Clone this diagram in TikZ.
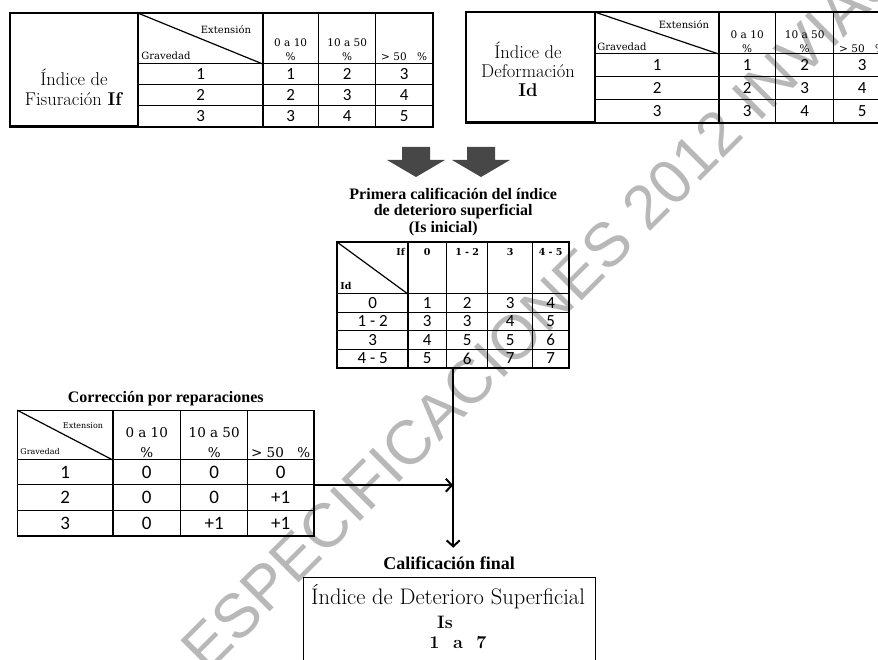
\documentclass[tikz,border=0pt]{standalone}
\usepackage{fontspec}
\usetikzlibrary{matrix,arrows.meta,positioning}

\newfontfamily\numfont{Carlito}
\newfontfamily\titfont{Liberation Serif}
\newfontfamily\wmfont{Liberation Sans}
\newfontfamily\hdrserif{DejaVu Serif}
\newcommand{\twol}[2]{\begin{tabular}[b]{@{}c@{}}#1\\#2\end{tabular}}
\newcommand{\hdrfont}{\hdrserif\fontsize{10.5}{14}\selectfont}
\newcommand{\smallhdr}{\hdrserif\fontsize{10}{12}\selectfont}

\tikzset{
  tcell/.style={draw, line width=1pt, inner sep=0pt, anchor=center},
  tbl/.style={matrix of nodes, nodes in empty cells, inner sep=0pt, anchor=north west,
    column sep=-1pt, row sep=-1pt, nodes={tcell}},
  labcell/.style={draw, line width=1pt, inner sep=0pt, outer sep=0pt, anchor=north west},
  labtxt/.style={align=center, inner sep=0pt, font=\fontsize{18.5}{20}\selectfont},
  hdrtxt/.style={anchor=base, inner sep=0pt, font=\hdrfont},
  tinytxt/.style={inner sep=0pt, font=\smallhdr},
  titletxt/.style={align=center, inner sep=0pt, font=\titfont\bfseries\fontsize{16}{16.5}\selectfont},
  thickline/.style={line width=1.8pt},
  conn/.style={line width=2pt, -{Straight Barb[length=6pt,width=13pt]}},
  blockarrow/.style={fill=black!72},
  wmark/.style={inner sep=0pt, text=black!28, font=\wmfont\fontsize{62}{62}\selectfont},
}

\begin{document}
\begin{tikzpicture}[x=1pt, y=-1pt]
\useasboundingbox (0,0) rectangle (878,660);
\clip (0,0) rectangle (878,660);

% watermark
\node[wmark, rotate=45] (wm) at (540,312) {ESPECIFICACIONES 2012 INVIAS};

% indice de fisuracion
\node[labcell, minimum width=128pt, minimum height=113pt] (lf) at (10,13) {};
\node[labtxt] (lftxt) at (74,87) {Índice de\\Fisuración \textbf{If}};
\matrix[tbl, nodes={minimum height=21pt, font=\numfont\fontsize{17}{18}\selectfont},
  column 1/.style={nodes={minimum width=124pt}},
  column 2/.style={nodes={minimum width=56pt}},
  column 3/.style={nodes={minimum width=57pt}},
  column 4/.style={nodes={minimum width=57pt}},
  row 1/.style={nodes={minimum height=50pt}}] (tf) at (lf.north east)
{
  & & & \\
  1 & 1 & 2 & 3 \\
  2 & 2 & 3 & 4 \\
  3 & 3 & 4 & 5 \\
};
\draw[line width=1.2pt] (tf-1-1.north west) -- (tf-1-1.south east);
\node[tinytxt, anchor=base east] (tfext) at ([xshift=-12pt,yshift=-20pt]tf-1-1.north east) {Extensión};
\node[tinytxt, anchor=base west] (tfgrav) at ([xshift=3pt,yshift=4.5pt]tf-1-1.south west) {Gravedad};
\node[hdrtxt] (tfh2) at ([yshift=4pt]tf-1-2.south) {\twol{0 a 10}{\%}};
\node[hdrtxt] (tfh3) at ([yshift=4pt]tf-1-3.south) {\twol{10 a 50}{\%}};
\node[hdrtxt] (tfh4) at ([yshift=4pt]tf-1-4.south) {\twol{}{> 50\quad\%}};
\draw[thickline] (lf.north west) rectangle (tf-4-4.south east);
\draw[thickline] (lf.north east) -- (lf.south east);
\draw[thickline] (tf-1-1.north east) -- (tf-4-1.south east);

% indice de deformacion
\node[labcell, minimum width=129pt, minimum height=110pt] (ld) at (466,12) {};
\node[labtxt, font=\fontsize{18.5}{19}\selectfont] (ldtxt) at (528,69) {Índice de\\Deformación\\\textbf{Id}};
\matrix[tbl, nodes={minimum height=23pt, font=\numfont\fontsize{17}{18}\selectfont},
  column 1/.style={nodes={minimum width=123pt}},
  column 2/.style={nodes={minimum width=57pt}},
  column 3/.style={nodes={minimum width=58pt}},
  column 4/.style={nodes={minimum width=57pt}},
  row 1/.style={nodes={minimum height=41pt}}] (td) at (ld.north east)
{
  & & & \\
  1 & 1 & 2 & 3 \\
  2 & 2 & 3 & 4 \\
  3 & 3 & 4 & 5 \\
};
\draw[line width=1.2pt] (td-1-1.north west) -- (td-1-1.south east);
\node[tinytxt, anchor=base east] (tdext) at ([xshift=-10pt,yshift=-16pt]td-1-1.north east) {Extensión};
\node[tinytxt, anchor=base west] (tdgrav) at ([xshift=2pt,yshift=4pt]td-1-1.south west) {Gravedad};
\node[hdrtxt] (tdh2) at ([yshift=2pt]td-1-2.south) {\twol{0 a 10}{\%}};
\node[hdrtxt] (tdh3) at ([yshift=2pt]td-1-3.south) {\twol{10 a 50}{\%}};
\node[hdrtxt] (tdh4) at ([yshift=2pt]td-1-4.south) {\twol{}{> 50\quad\%}};
\draw[thickline] (ld.north west) rectangle (td-4-4.south east);
\draw[thickline] (ld.north east) -- (ld.south east);
\draw[thickline] (td-1-1.north east) -- (td-4-1.south east);

% flechas de bloque
\foreach \x in {416,481}
  \fill[blockarrow] (\x-14,147) -- (\x+14,147) -- (\x+14,160) -- (\x+29,160)
    -- (\x,177) -- (\x-29,160) -- (\x-14,160) -- cycle;

% Is inicial
\matrix[tbl, nodes={minimum height=18.5pt, font=\numfont\fontsize{17}{18}\selectfont},
  column 1/.style={nodes={minimum width=70pt}},
  column 2/.style={nodes={minimum width=39pt}},
  column 3/.style={nodes={minimum width=41pt}},
  column 4/.style={nodes={minimum width=45pt}},
  column 5/.style={nodes={minimum width=36pt}},
  row 1/.style={nodes={minimum height=51pt}}] (ti) at (337,242)
{
  & & & & \\
  0 & 1 & 2 & 3 & 4 \\
  1 - 2 & 3 & 3 & 4 & 5 \\
  3 & 4 & 5 & 5 & 6 \\
  4 - 5 & 5 & 6 & 7 & 7 \\
};
\draw[line width=1.2pt] (ti-1-1.north west) -- (ti-1-1.south east);
\foreach \c/\t in {2/0, 3/1 - 2, 4/3, 5/4 - 5}
  \node[tinytxt, font=\hdrserif\bfseries\fontsize{9.5}{10}\selectfont, below=6pt of ti-1-\c.north] (tih\c) {\t};
\node[tinytxt, font=\hdrserif\bfseries\fontsize{9.5}{10}\selectfont, anchor=north east] (tiif) at ([xshift=-3pt,yshift=-6pt]ti-1-1.north east) {If};
\node[tinytxt, font=\hdrserif\bfseries\fontsize{9.5}{10}\selectfont, anchor=south west] (tiid) at ([xshift=3pt,yshift=4pt]ti-1-1.south west) {Id};
\draw[thickline] (ti-1-1.north west) rectangle (ti-5-5.south east);
\draw[thickline] (ti-1-1.north east) -- (ti-5-1.south east);
\node[titletxt, above=6pt of ti] (tititle) {Primera calificación del índice\\de deterioro superficial\\(Is inicial)\hspace*{20pt}};

% correccion por reparaciones
\matrix[tbl, nodes={minimum height=25pt, font=\numfont\fontsize{19}{20}\selectfont},
  column 1/.style={nodes={minimum width=95pt}},
  column 2/.style={nodes={minimum width=68pt}},
  column 3/.style={nodes={minimum width=67pt}},
  column 4/.style={nodes={minimum width=66pt}},
  row 1/.style={nodes={minimum height=49pt}},
  row 3/.style={nodes={minimum height=26pt}}] (tr) at (17,410)
{
  & & & \\
  1 & 0 & 0 & 0 \\
  2 & 0 & 0 & +1 \\
  3 & 0 & +1 & +1 \\
};
\draw[line width=1.2pt] (tr-1-1.north west) -- (tr-1-1.south east);
\node[tinytxt, font=\hdrserif\fontsize{8}{10}\selectfont, anchor=base east] (trext) at ([xshift=-10pt,yshift=-18pt]tr-1-1.north east) {Extension};
\node[tinytxt, font=\hdrserif\fontsize{8}{10}\selectfont, anchor=base west] (trgrav) at ([xshift=3pt,yshift=6pt]tr-1-1.south west) {Gravedad};
\node[hdrtxt, font=\hdrserif\fontsize{13.5}{20}\selectfont] (trh2) at ([yshift=3pt]tr-1-2.south) {\twol{0 a 10}{\%}};
\node[hdrtxt, font=\hdrserif\fontsize{13.5}{20}\selectfont] (trh3) at ([yshift=3pt]tr-1-3.south) {\twol{10 a 50}{\%}};
\node[hdrtxt, font=\hdrserif\fontsize{13.5}{20}\selectfont] (trh4) at ([yshift=3pt]tr-1-4.south) {\twol{}{> 50\quad\%}};
\draw[line width=1.4pt] (tr-1-1.north west) rectangle (tr-4-4.south east);
\draw[line width=1.4pt] (tr-1-1.north east) -- (tr-4-1.south east);
\node[titletxt, above=4pt of tr] (trtitle) {Corrección por reparaciones};

% calificacion final
\node[labcell, minimum width=292pt, minimum height=110pt] (fb) at (303,577) {};
\node[titletxt, font=\titfont\bfseries\fontsize{18}{20}\selectfont, above=7pt of fb.north] (cf) {Calificación final};
\node[inner sep=0pt, font=\fontsize{22.5}{24}\selectfont] (fbname) at (448,597) {Índice de Deterioro Superficial};
\node[inner sep=0pt, font=\bfseries\fontsize{18}{20}\selectfont] (fbis) at (445,622) {Is};
\node[inner sep=0pt, font=\bfseries\fontsize{18}{20}\selectfont] (fbrng) at (458,643) {1~ a~ 7};

% conectores
\draw[conn] (ti.south) -- ([yshift=9pt]ti.south |- cf.north);
\draw[conn] (tr-2-4.south east) -- (tr-2-4.south east -| ti.south);
\end{tikzpicture}
\end{document}
